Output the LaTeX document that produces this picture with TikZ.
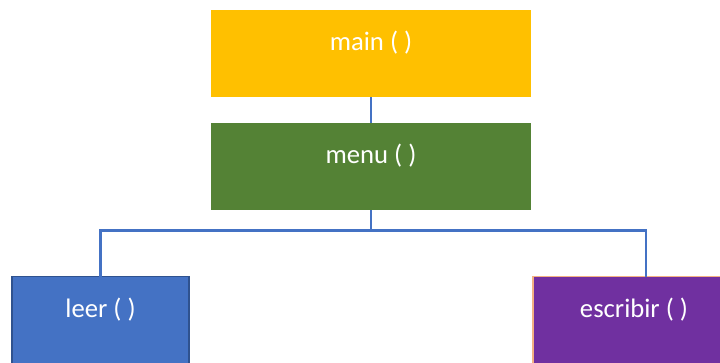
\documentclass[tikz,border=0pt]{standalone}
\usepackage{fontspec}
\setmainfont{Carlito}
\definecolor{mainfill}{HTML}{FFC000}
\definecolor{menufill}{HTML}{548235}
\definecolor{leerfill}{HTML}{4472C4}
\definecolor{leeredge}{HTML}{2F528F}
\definecolor{escrfill}{HTML}{7030A0}
\definecolor{escredge}{HTML}{F4B183}
\definecolor{linkcol}{HTML}{4472C4}
\begin{document}
\begin{tikzpicture}[x=0.75pt,y=-0.75pt,
  fnbox/.style={rectangle, inner sep=0pt, outer sep=0pt, minimum height=65.25pt},
  fnlabel/.style={text=white, font=\fontsize{20}{24}\selectfont, inner sep=0pt},
  conn/.style={draw=linkcol, line width=1.6pt}]
  \useasboundingbox (0,0) rectangle (720,362);
  \clip (0,0) rectangle (720,362);
  % function boxes
  \node[fnbox, fill=mainfill, minimum width=240pt] (main) at (371,53.5) {};
  \node[fnbox, fill=menufill, minimum width=240pt] (menu) at (371,166.5) {};
  \node[fnbox, fill=leerfill, draw=leeredge, line width=1.2pt, minimum width=132.75pt] (leer) at (100.5,320) {};
  \node[fnbox, fill=escrfill, draw=escredge, line width=0.8pt, minimum width=151.5pt] (escribir) at (634,320) {};
  % labels
  \node[fnlabel] (mainT) at ([yshift=-24.75pt]main.north) {main ( )};
  \node[fnlabel] (menuT) at ([yshift=-24.75pt]menu.north) {menu ( )};
  \node[fnlabel] (leerT) at ([yshift=-24.75pt]leer.north) {leer ( )};
  \node[fnlabel] (escribirT) at ([yshift=-24.75pt]escribir.north) {escribir ( )};
  % call tree connectors
  \coordinate (split) at (371,230.5);
  \coordinate (escin) at (646,276.5);
  \draw[conn] (main.south) -- (menu.north);
  \draw[conn] (menu.south) -- (split);
  \draw[conn] (leer.north) |- (split) -| (escin);
\end{tikzpicture}
\end{document}
